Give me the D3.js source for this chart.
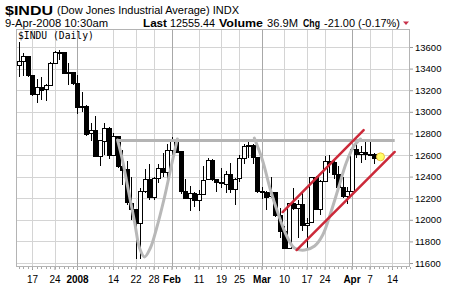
<!DOCTYPE html>
<html lang="en">
<head>
<meta charset="UTF-8">
<title>$INDU Daily</title>
<script src="https://d3js.org/d3.v7.min.js"></script>
<style>
  body { margin: 0; background: #fff; }
  svg text { font-family: "Liberation Sans", Arial, sans-serif; fill: #000; }
</style>
</head>
<body>
<script>
// trading days, Dec 12 2007 .. Apr 9 2008 (weekdays minus market holidays)
const firstDay = "2007-12-12", lastDay = "2008-04-09", axisEnd = "2008-04-18";
const holidays = ["2007-12-25", "2008-01-01", "2008-01-21", "2008-02-18", "2008-03-21"];

// daily open / high / low / close
const opens = [13432,13473,13517,13339,13167,13232,13207,13245,13450,13550,13551,13359,13365,
  13264,13044,13056,12800,12827,12589,12735,12853,12606,12778,12501,12466,12159,12099,11971,12270,12378,12207,12383,12480,12442,
  12650,12743,12635,12265,12200,12247,12182,12240,12373,12552,12376,12348,12337,12427,12284,12381,12570,12684,12694,12582,
  12266,12258,12213,12254,12040,11893,11740,12156,12110,12145,11951,11972,12392,12099,12361,12548,12532,12422,12302,12216,
  12263,12654,12605,12626,12610,12612,12577];
const highs = [13650,13540,13520,13345,13300,13320,13260,13460,13560,13570,13555,13450,13370,
  13340,13180,13060,12900,12960,12740,12900,12860,12800,12780,12650,12540,12400,12100,12290,12470,12520,12400,12520,12620,12700,
  12770,12750,12640,12380,12310,12260,12280,12500,12570,12560,12380,12480,12450,12530,12390,12600,12700,12750,12700,12583,
  12300,12270,12400,12260,12110,11940,12160,12290,12180,12270,12020,12400,12410,12370,12590,12600,12540,12500,12400,12300,
  12660,12750,12680,12720,12730,12620,12610];
const lows = [13320,13330,13320,13150,13080,13110,13100,13245,13440,13480,13350,13250,13250,
  12980,13000,12780,12730,12580,12500,12600,12560,12600,12480,12320,12140,12000,11634,11640,12250,12180,12180,12340,12400,12340,
  12600,12620,12240,12190,12080,12120,12080,12240,12370,12360,12260,12290,12250,12250,12140,12350,12520,12570,12520,12250,
  12190,12090,12200,12030,11830,11730,11740,12090,11830,11900,11730,11970,12090,12040,12360,12430,12380,12290,12200,12150,
  12260,12570,12530,12550,12590,12520,12540];
const closes = [13473,13517,13339,13167,13232,13207,13245,13450,13550,13551,13359,13365,13264,
  13044,13056,12800,12827,12589,12735,12853,12606,12778,12501,12466,12159,12099,11971,12270,12378,12207,12383,12480,12442,12650,
  12743,12635,12265,12200,12247,12182,12240,12373,12552,12376,12348,12337,12427,12284,12381,12570,12684,12694,12582,12266,
  12258,12213,12254,12040,11893,11740,12156,12110,12145,11951,11972,12392,12099,12361,12548,12532,12422,12302,12216,12263,
  12654,12605,12626,12610,12612,12577,12555];

const priceTicks = [11600, 11800, 12000, 12200, 12400, 12600, 12800, 13000, 13200, 13400, 13600];
const tickDates = ["2007-12-17","2007-12-24","2008-01-02","2008-01-14","2008-01-22","2008-01-28","2008-02-01",
  "2008-02-11","2008-02-19","2008-02-25","2008-03-03","2008-03-10","2008-03-17","2008-03-24","2008-04-01","2008-04-07","2008-04-14"];
const tickLabels = ["17","24","2008","14","22","28","Feb","11","19","25","Mar","10","17","24","Apr","7","14"];
const monthTicks = ["2008","Feb","Mar","Apr"];

// annotations: [trading-day index, price]
const resistance = [[22, 12735], [83.6, 12735]];
const cup1 = [[22,12739],[23.1,12554],[24.4,12276],[25.8,11980],[26.9,11739],[28,11656],[29.3,11739],
  [30.7,11924],[32.4,12202],[34,12507],[35.3,12748]];
const cup2 = [[52.4,12757],[54.2,12554],[56,12276],[57.8,12044],[59.6,11850],[61.3,11739],[63.6,11720],
  [65.8,11757],[67.6,11859],[69.3,12054],[71.1,12294],[72.9,12535],[74.7,12693],[76,12748]];
const channelTop = [[58.7, 12072], [76.7, 12831]];
const channelBottom = [[61.8, 11720], [83.6, 12628]];

// build trading-day calendar
const parse = d3.utcParse("%Y-%m-%d"), fmt = d3.utcFormat("%Y-%m-%d");
const days = d3.utcDay.range(parse(firstDay), d3.utcDay.offset(parse(axisEnd), 1))
  .filter(d => d.getUTCDay() > 0 && d.getUTCDay() < 6 && !holidays.includes(fmt(d)))
  .map(fmt);
const dayIndex = new Map(days.map((d, i) => [d, i]));
const nBars = days.indexOf(lastDay) + 1;
const bars = d3.range(nBars).map(i => ({i, o: opens[i], h: highs[i], l: lows[i], c: closes[i]}));

const W = 453, H = 287;
const plot = {left: 16, right: 410, top: 29, bottom: 267};

const x = d3.scaleLinear().domain([dayIndex.get("2007-12-17"), dayIndex.get("2008-04-14")]).range([32, 392]);
const y = d3.scaleLinear().domain([11600, 13600]).range([263, 47]);

const svg = d3.select("body").append("svg").attr("width", W).attr("height", H);
svg.append("rect").attr("width", W).attr("height", H).attr("fill", "#fff");

svg.append("clipPath").attr("id", "clip").append("rect")
  .attr("x", plot.left).attr("y", plot.top)
  .attr("width", plot.right - plot.left).attr("height", plot.bottom - plot.top);

// header
const head = svg.append("g");
head.append("text").attr("x", 5).attr("y", 15).attr("font-weight", "bold").attr("font-size", 13)
  .attr("textLength", 48).attr("lengthAdjust", "spacingAndGlyphs").text("$INDU");
head.append("text").attr("x", 57).attr("y", 14).attr("font-size", 10)
  .attr("textLength", 182).attr("lengthAdjust", "spacingAndGlyphs").text("(Dow Jones Industrial Average) INDX");
const row2 = [
  {x: 5, w: 103, t: "9-Apr-2008 10:30am", b: false},
  {x: 143, w: 24, t: "Last", b: true},
  {x: 170, w: 45, t: "12555.44", b: false},
  {x: 219, w: 44, t: "Volume", b: true},
  {x: 267, w: 31, t: "36.9M", b: false},
  {x: 303, w: 17, t: "Chg", b: true},
  {x: 324, w: 76, t: "-21.00 (-0.17%)", b: false}
];
head.selectAll(".r2").data(row2).join("text")
  .attr("x", d => d.x).attr("y", 27)
  .attr("font-size", d => d.b ? 11 : 10).attr("font-weight", d => d.b ? "bold" : "normal")
  .attr("textLength", d => d.w).attr("lengthAdjust", "spacingAndGlyphs").text(d => d.t);
head.append("path").attr("d", "M403,21.5L409,21.5L406,25Z").attr("fill", "#c8304a");

// grid
const grid = svg.append("g").attr("shape-rendering", "crispEdges");
grid.selectAll(".hg").data(priceTicks).join("line")
  .attr("x1", plot.left).attr("x2", plot.right)
  .attr("y1", d => Math.round(y(d)) + 0.5).attr("y2", d => Math.round(y(d)) + 0.5)
  .attr("stroke", "#d4d4d4");
grid.selectAll(".vg").data(tickDates).join("line")
  .attr("x1", d => Math.round(x(dayIndex.get(d))) + 0.5).attr("x2", d => Math.round(x(dayIndex.get(d))) + 0.5)
  .attr("y1", plot.top).attr("y2", plot.bottom)
  .attr("stroke", (d, i) => monthTicks.includes(tickLabels[i]) ? "#a8a8a8" : "#d4d4d4");

// border
svg.append("rect").attr("x", plot.left + 0.5).attr("y", plot.top + 0.5)
  .attr("width", plot.right - plot.left - 1).attr("height", plot.bottom - plot.top - 1)
  .attr("fill", "none").attr("stroke", "#b4b4b4").attr("shape-rendering", "crispEdges");

// axes
const yAxis = svg.append("g").attr("transform", `translate(${plot.right},0)`)
  .call(d3.axisRight(y).tickValues(priceTicks).tickSize(3).tickFormat(d3.format("d")));
yAxis.select(".domain").remove();
yAxis.selectAll("line").attr("stroke", "#999");
yAxis.selectAll("text").attr("font-size", 9.5).attr("dx", -1).attr("fill", "#222")
  .style("font-family", "'Liberation Sans', Arial, sans-serif");

const xAxis = svg.append("g").attr("transform", `translate(0,${plot.bottom})`)
  .call(d3.axisBottom(x).tickValues(tickDates.map(d => dayIndex.get(d))).tickSize(3)
    .tickFormat((d, i) => tickLabels[i]));
xAxis.select(".domain").remove();
xAxis.selectAll("line").attr("stroke", "#999");
xAxis.selectAll("text").attr("font-size", 10).attr("dy", "0.95em")
  .attr("font-weight", (d, i) => monthTicks.includes(tickLabels[i]) ? "bold" : "normal")
  .style("font-family", "'Liberation Sans', Arial, sans-serif");
// minor day ticks
svg.append("g").selectAll("line").data(d3.range(days.length)).join("line")
  .attr("x1", d => Math.round(x(d)) + 0.5).attr("x2", d => Math.round(x(d)) + 0.5)
  .attr("y1", plot.bottom).attr("y2", plot.bottom + 1.5)
  .attr("stroke", "#aaa").attr("shape-rendering", "crispEdges");

svg.append("text").attr("x", 18).attr("y", 39).attr("font-size", 9.7)
  .style("font-family", "'DejaVu Sans Mono', monospace").text("$INDU (Daily)");

const line = d3.line().x(d => x(d[0])).y(d => y(d[1]));
const curve = d3.line().x(d => x(d[0])).y(d => y(d[1])).curve(d3.curveCatmullRom);
const marks = svg.append("g").attr("clip-path", "url(#clip)");

// candles
const candles = marks.append("g").attr("shape-rendering", "crispEdges");
const cg = candles.selectAll("g").data(bars).join("g");
cg.append("line")
  .attr("x1", d => Math.round(x(d.i)) + 0.5).attr("x2", d => Math.round(x(d.i)) + 0.5)
  .attr("y1", d => y(d.h)).attr("y2", d => y(d.l)).attr("stroke", "#000");
cg.append("rect")
  .attr("x", d => Math.round(x(d.i)) - 1.5).attr("width", 4)
  .attr("y", d => Math.round(y(Math.max(d.o, d.c))) + 0.5)
  .attr("height", d => Math.max(1, Math.round(Math.abs(y(d.o) - y(d.c)))))
  .attr("fill", d => d.c >= d.o ? "#fff" : "#000").attr("stroke", "#000");

// overlays
marks.append("path").datum(resistance).attr("d", line)
  .attr("fill", "none").attr("stroke", "#b4b4b4").attr("stroke-width", 3);
[cup1, cup2].forEach(c => marks.append("path").datum(c).attr("d", curve)
  .attr("fill", "none").attr("stroke", "#b8b8b8").attr("stroke-width", 3).attr("stroke-linecap", "round"));
[channelTop, channelBottom].forEach(c => marks.append("path").datum(c).attr("d", line)
  .attr("fill", "none").attr("stroke", "#cc2a3a").attr("stroke-width", 2.5).attr("stroke-linecap", "round"));

const last = bars[bars.length - 1];
marks.append("circle").attr("cx", x(last.i) + 2).attr("cy", y(last.c) - 3).attr("r", 4)
  .attr("fill", "#ffff66").attr("stroke", "#f0c040").attr("stroke-width", 1);
</script>
</body>
</html>
